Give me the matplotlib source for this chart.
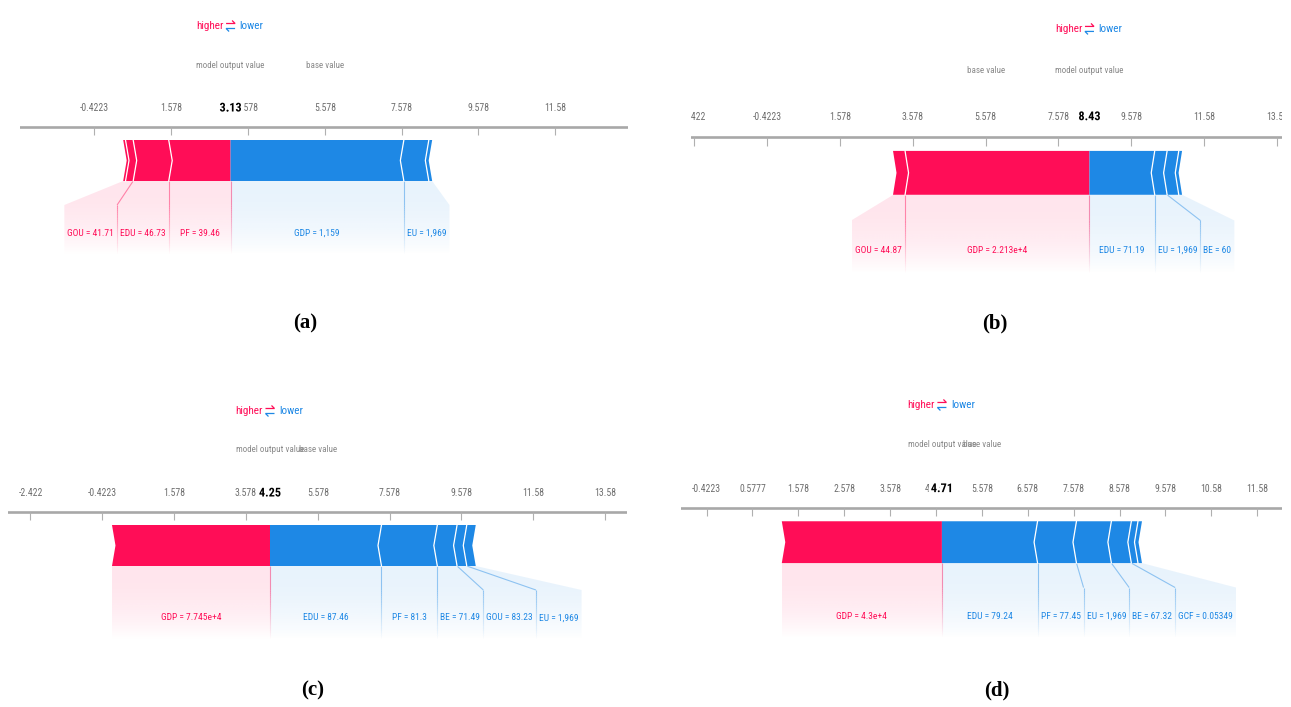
import matplotlib
matplotlib.use("Agg")
import numpy as np
import matplotlib.pyplot as plt
from matplotlib import font_manager
from matplotlib.patches import Polygon
from matplotlib.collections import LineCollection
import matplotlib.patheffects as pe

BASE_VALUE = 5.578
RED = "#FF0D57"
BLUE = "#1E88E5"

# ---------------- data ----------------
# (a)
a_features = ["GOU", "EDU", "PF", "GDP", "EU"]
a_values = ["41.71", "46.73", "39.46", "1,159", "1,969"]
a_effects = [0.20, 0.925, 1.61, -4.51, -0.65]
a_minor = [0.06, -0.087]          # small unlabeled effects at the bar ends
a_ticks = [-0.4223, 1.578, 3.578, 5.578, 7.578, 9.578, 11.58]
a_ticklabels = ["-0.4223", "1.578", "3.578", "5.578", "7.578", "9.578", "11.58"]

# (b)
b_features = ["GOU", "GDP", "EDU", "EU", "BE"]
b_values = ["44.87", "2.213e+4", "71.19", "1,969", "60"]
b_effects = [0.33, 5.06, -1.79, -0.34, -0.32]
b_minor = [-0.09]
b_ticks = [-2.422, -0.4223, 1.578, 3.578, 5.578, 7.578, 9.578, 11.58, 13.58]
b_ticklabels = ["-2.422", "-0.4223", "1.578", "3.578", "5.578", "7.578", "9.578", "11.58", "13.58"]

# (c)
c_features = ["GDP", "EDU", "PF", "BE", "GOU", "EU"]
c_values = ["7.745e+4", "87.46", "81.3", "71.49", "83.23", "1,969"]
c_effects = [4.40, -3.105, -1.555, -0.55, -0.27, -0.25]
c_minor = []
c_ticks = [-2.422, -0.4223, 1.578, 3.578, 5.578, 7.578, 9.578, 11.58, 13.58]
c_ticklabels = ["-2.422", "-0.4223", "1.578", "3.578", "5.578", "7.578", "9.578", "11.58", "13.58"]

# (d)
d_features = ["GDP", "EDU", "PF", "EU", "BE", "GCF"]
d_values = ["4.3e+4", "79.24", "77.45", "1,969", "67.32", "0.05349"]
d_effects = [3.49, -2.085, -0.848, -0.761, -0.435, -0.145]
d_minor = [-0.087]
d_ticks = [-0.4223, 0.5777, 1.578, 2.578, 3.578, 4.578, 5.578, 6.578, 7.578, 8.578, 9.578, 10.58, 11.58]
d_ticklabels = ["-0.4223", "0.5777", "1.578", "2.578", "3.578", "4.578", "5.578", "6.578",
                "7.578", "8.578", "9.578", "10.58", "11.58"]


# ---------------- fonts ----------------
def pick_family(cands):
    for fam in cands:
        try:
            font_manager.findfont(font_manager.FontProperties(family=fam),
                                  fallback_to_default=False)
            return fam
        except ValueError:
            pass
    return None


NARROW = pick_family(["Liberation Sans Narrow", "Arial Narrow", "Roboto Condensed",
                      "Open Sans Condensed"])
if NARROW is None:
    NARROW = pick_family(["Liberation Sans", "Arial"]) or "DejaVu Sans"
    FS = 0.82
else:
    FS = 1.0
SERIF = pick_family(["Liberation Serif", "Times New Roman"]) or "DejaVu Serif"

TICK_FS = 7.0 * FS
LABEL_FS = 6.8 * FS
MOV_FS = 6.5 * FS
HL_FS = 8.0 * FS
OUT_FS = 8.8 * FS

# vertical layout, in pixels relative to the axis line (downwards positive)
OFF = dict(hl=-101, mov=-62, tl=-19, tick=8, bar_top=13, bar_bot=54,
           trap=78, lab=106, bottom=128)

PANELS = [
    dict(tag="(a)", x0=20, x1=628, axis_y=127, vs=1.0, xlim=(-2.355, 13.47), tag_xy=(305, 323)),
    dict(tag="(b)", x0=690.7, x1=1282, axis_y=137, vs=1.07, xlim=(-2.513, 13.71), tag_xy=(995, 323)),
    dict(tag="(c)", x0=8, x1=627, axis_y=512, vs=1.0, xlim=(-3.048, 14.19), tag_xy=(313, 690)),
    dict(tag="(d)", x0=680.5, x1=1282, axis_y=508, vs=1.02, xlim=(-0.991, 12.12), tag_xy=(997, 690)),
]

FIG_W, FIG_H = 1291, 707
fig = plt.figure(figsize=(FIG_W / 100, FIG_H / 100), dpi=100)
fig.patch.set_facecolor("white")
renderer = fig.canvas.get_renderer()


def gradient_fill(ax, poly_pts, color, y_top, y_bot, x_lo, x_hi, a0):
    patch = Polygon(poly_pts, closed=True, facecolor="none", edgecolor="none")
    ax.add_patch(patch)
    n = 120
    t = np.linspace(0, 1, n)
    alpha = a0 * (1 - t ** 2.2)
    rgb = matplotlib.colors.to_rgb(color)
    img = np.zeros((n, 1, 4))
    img[:, 0, :3] = rgb
    img[:, 0, 3] = alpha
    im = ax.imshow(img, extent=[x_lo, x_hi, y_bot, y_top], origin="upper",
                   aspect="auto", interpolation="bilinear", zorder=1)
    im.set_clip_path(patch)


def connector(ax, x_bar, x_box, y_bar, y_trap, y_bot, color):
    ax.plot([x_bar, x_box], [y_bar, y_trap], color=color, alpha=0.45, lw=0.8,
            solid_capstyle="butt", zorder=2)
    ys = np.linspace(y_trap, y_bot, 25)
    segs = [[(x_box, ys[i]), (x_box, ys[i + 1])] for i in range(len(ys) - 1)]
    rgb = matplotlib.colors.to_rgb(color)
    alphas = np.linspace(0.45, 0.0, len(segs))
    cols = [(rgb[0], rgb[1], rgb[2], a) for a in alphas]
    ax.add_collection(LineCollection(segs, colors=cols, linewidths=0.8, zorder=2))


def force_plot(spec, features, values, effects, minor, ticks, ticklabels):
    x0, x1, ay, vs = spec["x0"], spec["x1"], spec["axis_y"], spec["vs"]
    top_px, bot_px = ay - 135, ay + 150
    ax = fig.add_axes([x0 / FIG_W, 1 - bot_px / FIG_H, (x1 - x0) / FIG_W,
                       (bot_px - top_px) / FIG_H])
    ax.set_xlim(*spec["xlim"])
    ax.set_ylim(150, -135)          # one y unit equals one pixel
    ax.set_autoscale_on(False)
    ax.axis("off")
    ppu = (x1 - x0) / (spec["xlim"][1] - spec["xlim"][0])
    Y = {k: v * vs for k, v in OFF.items()}

    out = BASE_VALUE + sum(effects) + sum(minor)

    # axis, ticks and tick labels
    ax.axhline(0, color="#a8a8a8", lw=1.9, zorder=2)
    ax.vlines(ticks, 0, Y["tick"], color="#b0b0b0", lw=0.8, zorder=2)
    for tv, tl in zip(ticks, ticklabels):
        ax.text(tv, Y["tl"], tl, ha="center", va="center", fontsize=TICK_FS,
                family=NARROW, color="#6e6e6e", clip_on=True, zorder=3)
    ax.text(out, Y["tl"], f"{out:.2f}", ha="center", va="center", fontsize=OUT_FS,
            family=NARROW, fontweight="bold", color="black", zorder=5,
            path_effects=[pe.withStroke(linewidth=4, foreground="white")])

    # header texts
    ax.text(out, Y["mov"], "model output value", ha="center", va="center",
            fontsize=MOV_FS, family=NARROW, color="#8a8a8a", zorder=3)
    ax.text(BASE_VALUE, Y["mov"], "base value", ha="center", va="center",
            fontsize=MOV_FS, family=NARROW, color="#8a8a8a", zorder=3)
    ax.annotate("higher", xy=(out, Y["hl"]), xytext=(-7, 0), textcoords="offset pixels",
                ha="right", va="center", fontsize=HL_FS, family=NARROW, color=RED)
    ax.annotate("lower", xy=(out, Y["hl"]), xytext=(9, 0), textcoords="offset pixels",
                ha="left", va="center", fontsize=HL_FS, family=NARROW, color=BLUE)
    # the two half-arrows between "higher" and "lower"
    hx = 4.5 / ppu
    bx = 3.0 / ppu
    yr, yb = Y["hl"] - 2.5, Y["hl"] + 2.5
    ax.plot([out - hx, out + hx, out + hx - bx], [yr, yr, yr - 3], color=RED, lw=0.9,
            solid_joinstyle="miter", solid_capstyle="butt")
    ax.plot([out + hx, out - hx, out - hx + bx], [yb, yb, yb + 3], color=BLUE, lw=0.9,
            solid_joinstyle="miter", solid_capstyle="butt")

    # segments: positive ones stacked leftwards from the output, negative rightwards
    pos = sorted([(e, n, v) for n, v, e in zip(features, values, effects) if e > 0],
                 key=lambda t: -t[0])
    neg = sorted([(e, n, v) for n, v, e in zip(features, values, effects) if e < 0],
                 key=lambda t: t[0])
    segs_pos, cur = [], out
    for e, n, v in pos:
        segs_pos.append([cur - e, cur, n, v]); cur -= e
    for m in [m for m in minor if m > 0]:
        segs_pos.append([cur - m, cur, None, None]); cur -= m
    left_end = cur
    segs_neg, cur = [], out
    for e, n, v in neg:
        segs_neg.append([cur, cur - e, n, v]); cur -= e
    for m in [m for m in minor if m < 0]:
        segs_neg.append([cur, cur - m, None, None]); cur -= m
    right_end = cur

    h = 3.5 / ppu
    bt, bb = Y["bar_top"], Y["bar_bot"]
    bm = (bt + bb) / 2
    for lo, hi, _, _ in segs_pos:
        tip = hi if np.isclose(hi, out) else hi + h
        pts = [(lo, bt), (hi, bt), (tip, bm), (hi, bb), (lo, bb), (lo + h, bm)]
        ax.add_patch(Polygon(pts, closed=True, facecolor=RED, edgecolor="none", zorder=3))
        if not np.isclose(lo, left_end):
            ax.plot([lo, lo + h, lo], [bt, bm, bb], color="white", lw=0.9, zorder=4)
    for lo, hi, _, _ in segs_neg:
        tip = lo if np.isclose(lo, out) else lo - h
        pts = [(lo, bt), (hi, bt), (hi - h, bm), (hi, bb), (lo, bb), (tip, bm)]
        ax.add_patch(Polygon(pts, closed=True, facecolor=BLUE, edgecolor="none", zorder=3))
        if not np.isclose(hi, right_end):
            ax.plot([hi, hi - h, hi], [bt, bm, bb], color="white", lw=0.9, zorder=4)

    # labels below the bar
    PAD = 6
    for segs, direction, color in ((segs_pos, -1, RED), (segs_neg, 1, BLUE)):
        labeled = [s for s in segs if s[2] is not None]
        edge = out
        for i, (lo, hi, n, v) in enumerate(labeled):
            t = ax.text(0, Y["lab"], f"{n} = {v}", ha="center", va="center",
                        fontsize=LABEL_FS, family=NARROW, color=color, zorder=3)
            w_px = t.get_window_extent(renderer).width
            bw = max(w_px + PAD, (hi - lo) * ppu) / ppu
            if direction < 0:
                b0, b1 = edge - bw, edge
                edge = b0
                if i == len(labeled) - 1:
                    lo = left_end
            else:
                b0, b1 = edge, edge + bw
                edge = b1
                if i == len(labeled) - 1:
                    hi = right_end
            t.set_x((b0 + b1) / 2)
            poly = [(lo, bb), (hi, bb), (b1, Y["trap"]), (b1, Y["bottom"]),
                    (b0, Y["bottom"]), (b0, Y["trap"])]
            gradient_fill(ax, poly, color, bb, Y["bottom"], min(lo, b0), max(hi, b1),
                          0.11 if color == RED else 0.10)
            if direction < 0:
                connector(ax, hi, b1, bb, Y["trap"], Y["bottom"], color)
            elif i > 0:
                connector(ax, lo, b0, bb, Y["trap"], Y["bottom"], color)

    fig.text(spec["tag_xy"][0] / FIG_W, 1 - spec["tag_xy"][1] / FIG_H, spec["tag"],
             ha="center", va="center", fontsize=15, fontweight="bold", family=SERIF)
    return ax


force_plot(PANELS[0], a_features, a_values, a_effects, a_minor, a_ticks, a_ticklabels)
force_plot(PANELS[1], b_features, b_values, b_effects, b_minor, b_ticks, b_ticklabels)
force_plot(PANELS[2], c_features, c_values, c_effects, c_minor, c_ticks, c_ticklabels)
force_plot(PANELS[3], d_features, d_values, d_effects, d_minor, d_ticks, d_ticklabels)

fig.savefig("out.png", dpi=100)
